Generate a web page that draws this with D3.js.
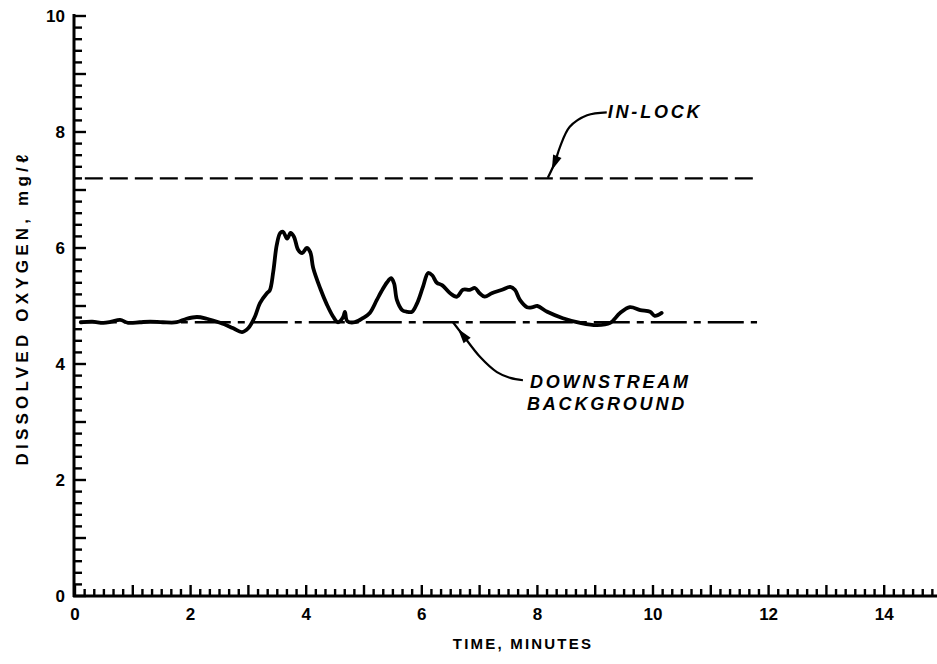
<!DOCTYPE html>
<html>
<head>
<meta charset="utf-8">
<script src="https://cdn.jsdelivr.net/npm/d3@7"></script>
<style>
  html, body { margin: 0; padding: 0; background: #fff; }
  svg { display: block; }
  text { font-family: "Liberation Sans", Arial, Helvetica, sans-serif; fill: #000; }
</style>
</head>
<body>
<svg id="chart" width="937" height="664"></svg>
<script>
// Dissolved oxygen record (minutes, mg/l)
const timeMin = [0.10, 0.30, 0.49, 0.63, 0.78, 0.92, 1.12, 1.30, 1.52, 1.76, 1.93, 2.11, 2.28, 2.51, 2.73, 2.89, 3.00, 3.11, 3.20, 3.32, 3.37, 3.43, 3.49, 3.55, 3.60, 3.67, 3.73, 3.79, 3.86, 3.93, 4.01, 4.07, 4.12, 4.24, 4.36, 4.47, 4.55, 4.64, 4.67, 4.71, 4.84, 4.98, 5.10, 5.22, 5.30, 5.40, 5.47, 5.52, 5.57, 5.66, 5.74, 5.83, 5.92, 6.02, 6.11, 6.18, 6.26, 6.35, 6.49, 6.61, 6.71, 6.83, 6.92, 7.00, 7.09, 7.21, 7.39, 7.53, 7.61, 7.70, 7.82, 7.92, 8.00, 8.17, 8.44, 8.74, 9.03, 9.26, 9.43, 9.60, 9.78, 9.95, 10.03, 10.15];
const dissolvedO2 = [4.72, 4.73, 4.71, 4.73, 4.76, 4.71, 4.72, 4.73, 4.72, 4.72, 4.78, 4.81, 4.78, 4.71, 4.62, 4.55, 4.62, 4.81, 5.05, 5.22, 5.27, 5.59, 6.05, 6.26, 6.28, 6.16, 6.26, 6.19, 5.97, 5.91, 6.00, 5.93, 5.66, 5.31, 5.02, 4.81, 4.72, 4.81, 4.90, 4.74, 4.72, 4.79, 4.88, 5.10, 5.25, 5.41, 5.48, 5.39, 5.10, 4.93, 4.90, 4.90, 5.05, 5.33, 5.57, 5.53, 5.40, 5.36, 5.22, 5.16, 5.28, 5.28, 5.31, 5.22, 5.16, 5.22, 5.28, 5.33, 5.28, 5.10, 4.98, 4.98, 5.00, 4.90, 4.79, 4.71, 4.67, 4.71, 4.88, 4.98, 4.93, 4.90, 4.83, 4.88];

// Reference levels
const inLockLevel = 7.2;
const inLockSpan = [0.17, 11.8];
const backgroundLevel = 4.72;
const backgroundSpan = [0.1, 11.8];

// Axis ticks
const xTickLabels = [0, 2, 4, 6, 8, 10, 12, 14];
const yTickLabels = [0, 2, 4, 6, 8, 10];

// Annotation leaders (minutes, mg/l)
const inLockLeader = [[9.2, 8.34], [8.86, 8.29], [8.56, 8.09], [8.39, 7.74], [8.30, 7.47], [8.18, 7.21]];
const backgroundLeader = [[7.75, 3.72], [7.53, 3.76], [7.30, 3.86], [7.01, 4.12], [6.71, 4.50], [6.54, 4.72]];

const svg = d3.select("#chart");
const x = d3.scaleLinear().domain([0, 15]).range([75, 942]);
const y = d3.scaleLinear().domain([0, 10]).range([596, 16]);

const x0 = x(0) - 1, y0 = y(0);

// Tick marks pointing into the plot: every 10 s / 0.2 mg/l, longer at whole units
const xTicks = d3.range(0, 90).map(i => ({ v: i / 6, major: i % 6 === 0 }));
const yTicks = d3.range(0, 51).map(i => ({ v: i / 5, major: i % 5 === 0 }));

const tickG = svg.append("g").attr("stroke", "#000").attr("stroke-width", 2.4);
tickG.append("g").selectAll("line").data(xTicks).join("line")
  .attr("x1", d => x(d.v)).attr("x2", d => x(d.v))
  .attr("y1", y0).attr("y2", d => y0 - (d.major ? 11 : 7));
tickG.append("g").selectAll("line").data(yTicks).join("line")
  .attr("x1", x0).attr("x2", d => x0 + (d.major ? 12 : 8))
  .attr("y1", d => y(d.v)).attr("y2", d => y(d.v));

// axis lines
svg.append("line")
  .attr("x1", x0).attr("x2", x0)
  .attr("y1", y0 + 1).attr("y2", y(10) - 2)
  .attr("stroke", "#000").attr("stroke-width", 3);
svg.append("line")
  .attr("x1", x0 - 1).attr("x2", 937)
  .attr("y1", y0).attr("y2", y0)
  .attr("stroke", "#000").attr("stroke-width", 3);

// tick labels
svg.append("g").selectAll("text").data(xTickLabels).join("text")
  .attr("x", d => x(d)).attr("y", y0 + 24)
  .attr("text-anchor", "middle")
  .attr("font-size", 17).attr("font-weight", "bold")
  .text(d => d);
svg.append("g").selectAll("text").data(yTickLabels).join("text")
  .attr("x", x0 - 9).attr("y", d => y(d) + 6)
  .attr("text-anchor", "end")
  .attr("font-size", 17).attr("font-weight", "bold")
  .text(d => d);

// axis titles
svg.append("text")
  .attr("x", 523).attr("y", 649)
  .attr("text-anchor", "middle")
  .attr("font-size", 15).attr("font-weight", "bold").attr("letter-spacing", 2.2)
  .text("TIME, MINUTES");
svg.append("text")
  .attr("transform", `translate(28,${308}) rotate(-90)`)
  .attr("text-anchor", "middle")
  .attr("font-size", 17).attr("font-weight", "bold").attr("letter-spacing", 4.2)
  .text("DISSOLVED OXYGEN, mg/ℓ");

// reference lines
svg.append("line")
  .attr("x1", x(inLockSpan[0])).attr("x2", x(inLockSpan[1]))
  .attr("y1", y(inLockLevel)).attr("y2", y(inLockLevel))
  .attr("stroke", "#000").attr("stroke-width", 2.4)
  .attr("stroke-dasharray", "18,7");
svg.append("line")
  .attr("x1", x(backgroundSpan[0])).attr("x2", x(backgroundSpan[1]))
  .attr("y1", y(backgroundLevel)).attr("y2", y(backgroundLevel))
  .attr("stroke", "#000").attr("stroke-width", 2.4)
  .attr("stroke-dasharray", "36,7,7,7");

// DO trace
const series = timeMin.map((t, i) => [t, dissolvedO2[i]]);
svg.append("path")
  .datum(series)
  .attr("fill", "none").attr("stroke", "#000")
  .attr("stroke-width", 3.8).attr("stroke-linejoin", "round").attr("stroke-linecap", "round")
  .attr("d", d3.line().x(d => x(d[0])).y(d => y(d[1])).curve(d3.curveCatmullRom.alpha(0.5)));

// leaders with arrowheads
function leader(pts, headIdx) {
  const line = d3.line().x(d => x(d[0])).y(d => y(d[1])).curve(d3.curveCatmullRom.alpha(0.5));
  svg.append("path").datum(pts)
    .attr("fill", "none").attr("stroke", "#000").attr("stroke-width", 2.2)
    .attr("d", line);
  const a = pts[headIdx - 1], b = pts[headIdx + 1], p = pts[headIdx];
  const ang = Math.atan2(y(b[1]) - y(a[1]), x(b[0]) - x(a[0])) * 180 / Math.PI;
  svg.append("path")
    .attr("d", "M8,0 L-7,-4.5 L-7,4.5 Z")
    .attr("transform", `translate(${x(p[0])},${y(p[1])}) rotate(${ang})`)
    .attr("fill", "#000");
}
leader(inLockLeader, 4);
leader(backgroundLeader, 4);

const annoFont = g => g.attr("font-size", 18).attr("font-weight", "bold")
  .attr("font-style", "italic").attr("letter-spacing", 2.8);
svg.append("text").call(annoFont)
  .attr("x", x(9.2) + 1).attr("y", y(8.34) + 6).text("IN-LOCK");
svg.append("text").call(annoFont)
  .attr("x", x(7.87)).attr("y", y(3.59)).text("DOWNSTREAM");
svg.append("text").call(annoFont)
  .attr("x", x(7.82)).attr("y", y(3.21)).text("BACKGROUND");
</script>
</body>
</html>
